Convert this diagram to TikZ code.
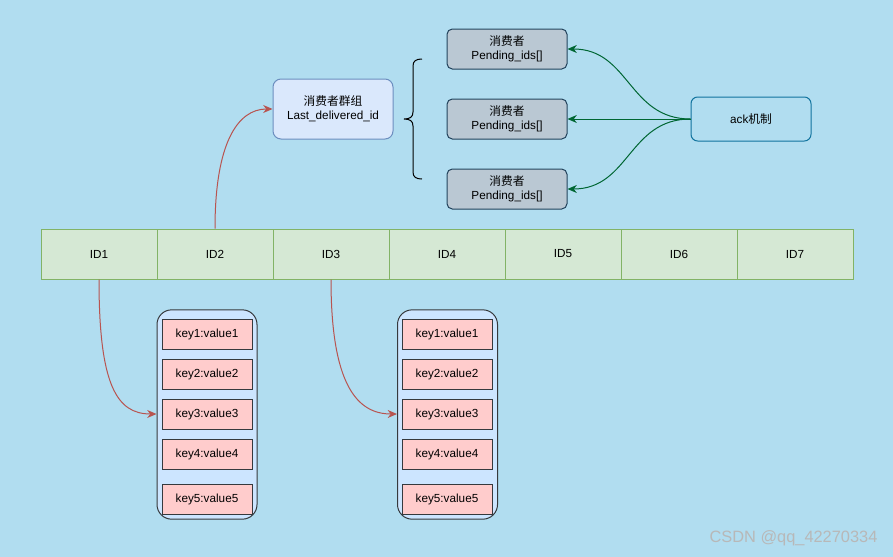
\documentclass[tikz,border=0pt]{standalone}
\usepackage{fontspec}
\setmainfont{Liberation Sans}
\newfontfamily\cjk{Noto Sans CJK SC}
\usetikzlibrary{arrows.meta}
\definecolor{bgc}{HTML}{B1DDF0}
\definecolor{idfill}{HTML}{D5E8D4}
\definecolor{iddraw}{HTML}{82B366}
\definecolor{grpfill}{HTML}{DAE8FC}
\definecolor{grpdraw}{HTML}{6C8EBF}
\definecolor{consfill}{HTML}{BAC8D3}
\definecolor{consdraw}{HTML}{23445D}
\definecolor{ackdraw}{HTML}{10739E}
\definecolor{contfill}{HTML}{CCE5FF}
\definecolor{contdraw}{HTML}{36393D}
\definecolor{keyfill}{HTML}{FFCCCC}
\definecolor{redarr}{HTML}{B85450}
\definecolor{greenarr}{HTML}{006633}
\definecolor{wmark}{HTML}{B8B8B8}
\tikzset{
  base/.style={inner sep=0pt, font=\fontsize{8.8pt}{10.5pt}\selectfont, align=center, line width=0.75pt},
  idcell/.style={base, draw=iddraw, fill=idfill, minimum width=87pt, minimum height=37.5pt},
  grpbox/.style={base, draw=grpdraw, fill=grpfill, rounded corners=6pt, minimum width=90pt, minimum height=45pt},
  consbox/.style={base, draw=consdraw, fill=consfill, rounded corners=4pt, minimum width=90pt, minimum height=30pt},
  ackbox/.style={base, draw=ackdraw, fill=bgc, rounded corners=5pt, minimum width=90pt, minimum height=33pt},
  contbox/.style={base, draw=contdraw, fill=contfill, rounded corners=11pt, minimum width=75pt, minimum height=157pt},
  keybox/.style={base, draw=contdraw, fill=keyfill, minimum width=67.5pt, minimum height=22.5pt},
  redline/.style={draw=redarr, line width=0.75pt, -{Stealth[length=7pt,width=6pt]}},
  greenline/.style={draw=greenarr, line width=0.75pt, -{Stealth[length=7pt,width=6pt]}},
}
\begin{document}
\begin{tikzpicture}[x=0.75pt, y=-0.75pt]
\fill[bgc] (0,0) rectangle (893,557);
\useasboundingbox (0,0) rectangle (893,557);

% ID row
\node[idcell] (id1) at (99,254) {ID1};
\node[idcell] (id2) at (215,254) {ID2};
\node[idcell] (id3) at (331,254) {ID3};
\node[idcell] (id4) at (447,254) {ID4};
\node[idcell] (id5) at (563,254) {ID5};
\node[idcell] (id6) at (679,254) {ID6};
\node[idcell] (id7) at (795,254) {ID7};

% consumer group
\node[grpbox] (grp) at (333,109) {{\cjk 消费者群组}\\Last\_delivered\_id};

% brace
\draw[line width=0.75pt] (422,59) .. controls (416,59) and (413,61) .. (413,66) -- (413,112)
  .. controls (413,117) and (410,119) .. (404,119)
  .. controls (410,119) and (413,121) .. (413,126) -- (413,172)
  .. controls (413,177) and (416,179) .. (422,179);

% consumers
\node[consbox] (c1) at (507,49) {{\cjk 消费者}\\Pending\_ids[]};
\node[consbox] (c2) at (507,119) {{\cjk 消费者}\\Pending\_ids[]};
\node[consbox] (c3) at (507,189) {{\cjk 消费者}\\Pending\_ids[]};

% ack
\node[ackbox] (ack) at (751,119) {ack{\cjk 机制}};

\draw[greenline] (ack.west) .. controls +(-62,0) and +(62,0) .. (c1.east);
\draw[greenline] (ack.west) -- (c2.east);
\draw[greenline] (ack.west) .. controls +(-62,0) and +(62,0) .. (c3.east);

% key containers
\node[contbox] (kcl) at (207,414.5) {};
\node[keybox] (l1) at (207,334) {key1:value1};
\node[keybox] (l2) at (207,374) {key2:value2};
\node[keybox] (l3) at (207,414) {key3:value3};
\node[keybox] (l4) at (207,454) {key4:value4};
\node[keybox] (l5) at (207,499) {key5:value5};

\node[contbox] (kcr) at (447.5,414.5) {};
\node[keybox] (r1) at (447,334) {key1:value1};
\node[keybox] (r2) at (447,374) {key2:value2};
\node[keybox] (r3) at (447,414) {key3:value3};
\node[keybox] (r4) at (447,454) {key4:value4};
\node[keybox] (r5) at (447,499) {key5:value5};

% red arrows
\draw[redline] (id2.north) .. controls +(0,-85) and +(-35,0) .. (grp.west);
\draw[redline] (id1.south) .. controls +(0,105) and +(-40,0) .. (l3.west -| kcl.west);
\draw[redline] (id3.south) .. controls +(0,105) and +(-40,0) .. (r3.west -| kcr.west);

% watermark
\node[inner sep=0pt, text=wmark, font=\fontsize{12.3pt}{14pt}\selectfont] (wm) at (793.5,538) {CSDN @qq\_42270334};
\end{tikzpicture}
\end{document}
